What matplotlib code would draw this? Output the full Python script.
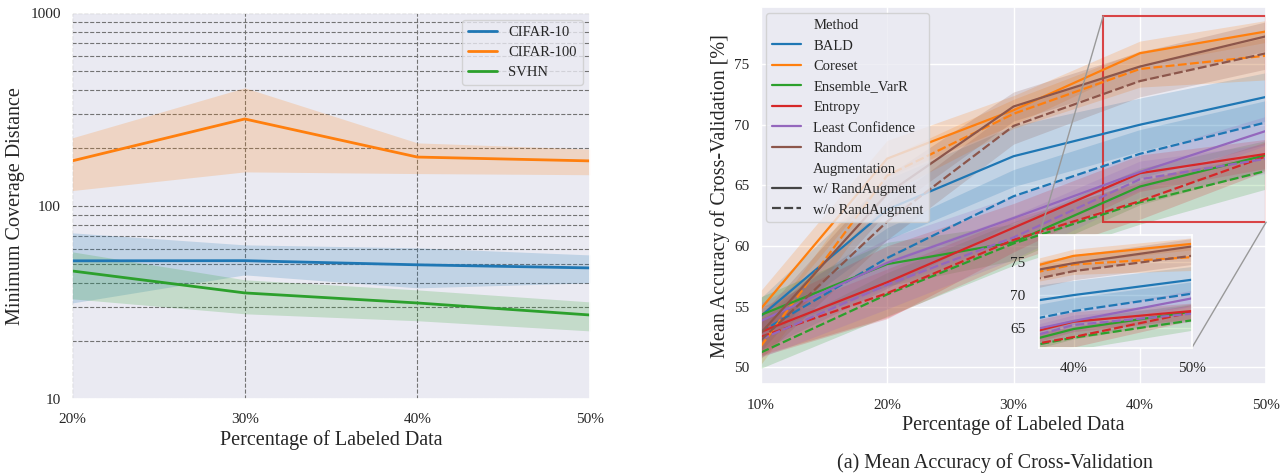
import matplotlib
matplotlib.use("Agg")
import matplotlib.pyplot as plt
import seaborn as sns
from matplotlib.lines import Line2D
from matplotlib.ticker import FuncFormatter, NullFormatter
from mpl_toolkits.axes_grid1.inset_locator import mark_inset

# ---- left panel: minimum coverage distance (log scale) ----
cov_x = [20, 30, 40, 50]
cifar10_mean = [51.9, 52.0, 49.5, 47.7]
cifar10_low = [31.4, 43.9, 37.6, 39.9]
cifar10_high = [72.5, 62.8, 60.6, 55.7]
cifar100_mean = [171, 282, 179, 171]
cifar100_low = [120, 150, 147, 145]
cifar100_high = [225, 409, 212, 197]
svhn_mean = [46.0, 35.4, 31.4, 27.2]
svhn_low = [33.0, 27.6, 25.4, 22.5]
svhn_high = [57.8, 41.4, 36.7, 31.8]

# ---- right panel: mean accuracy of cross-validation ----
acc_x = [10, 20, 30, 40, 50]
methods = ["BALD", "Coreset", "Ensemble_VarR", "Entropy", "Least Confidence", "Random"]
# with RandAugment / without RandAugment, means and half-width of the band
bald_aug = [54.2, 63.0, 67.4, 70.0, 72.3]
bald_noaug = [52.9, 59.0, 64.1, 67.6, 70.2]
coreset_aug = [54.8, 67.2, 71.2, 75.9, 77.7]
coreset_noaug = [51.7, 65.8, 70.9, 74.6, 75.7]
ensemble_aug = [54.3, 58.5, 60.3, 64.9, 67.5]
ensemble_noaug = [51.2, 56.0, 60.2, 63.6, 66.2]
entropy_aug = [52.9, 57.0, 61.5, 66.0, 67.6]
entropy_noaug = [52.5, 56.1, 60.5, 63.7, 67.4]
lc_aug = [53.8, 58.6, 62.3, 66.1, 69.5]
lc_noaug = [52.3, 56.8, 60.7, 65.5, 67.2]
random_aug = [52.8, 64.3, 71.5, 74.8, 77.3]
random_noaug = [52.2, 62.0, 69.9, 73.6, 75.9]

bald_aug_ci = [1.5, 2.5, 2.5, 2.2, 2.0]
bald_noaug_ci = [1.5, 2.5, 2.2, 2.0, 1.8]
coreset_aug_ci = [1.5, 1.5, 1.2, 1.0, 0.9]
coreset_noaug_ci = [1.5, 1.5, 1.2, 1.5, 2.0]
ensemble_aug_ci = [1.5, 1.8, 1.5, 1.5, 1.2]
ensemble_noaug_ci = [1.3, 1.8, 1.8, 1.8, 1.5]
entropy_aug_ci = [2.0, 3.0, 2.0, 1.5, 1.2]
entropy_noaug_ci = [1.5, 2.0, 1.8, 1.5, 1.2]
lc_aug_ci = [1.5, 2.0, 1.8, 1.5, 1.2]
lc_noaug_ci = [1.5, 2.0, 1.8, 1.5, 1.2]
random_aug_ci = [1.5, 1.5, 1.2, 1.2, 1.2]
random_noaug_ci = [1.5, 1.5, 1.5, 1.3, 1.3]

COLORS = ["#1f77b4", "#ff7f0e", "#2ca02c", "#d62728", "#9467bd", "#8c564b"]

sns.set_theme(style="darkgrid")
plt.rcParams["font.family"] = ["Liberation Serif", "DejaVu Serif"]
plt.rcParams["text.color"] = "#262626"

fig = plt.figure(figsize=(12.87, 4.76), dpi=100)

# left panel
ax1 = fig.add_axes([0.056, 0.162, 0.4025, 0.811])
for mean, low, high, col, name in [
        (cifar10_mean, cifar10_low, cifar10_high, COLORS[0], "CIFAR-10"),
        (cifar100_mean, cifar100_low, cifar100_high, COLORS[1], "CIFAR-100"),
        (svhn_mean, svhn_low, svhn_high, COLORS[2], "SVHN")]:
    ax1.fill_between(cov_x, low, high, color=col, alpha=0.2, lw=0)
    ax1.plot(cov_x, mean, color=col, lw=2, label=name)
ax1.set_yscale("log")
ax1.set_ylim(10, 1000)
ax1.set_xlim(20, 50)
ax1.set_xticks(cov_x)
ax1.set_xticklabels([f"{v}%" for v in cov_x])
ax1.yaxis.set_major_formatter(FuncFormatter(lambda v, _: f"{int(round(v))}"))
ax1.yaxis.set_minor_formatter(NullFormatter())
ax1.grid(which="both", linestyle="--", color="0.45", linewidth=0.8)
ax1.tick_params(axis="both", labelsize=11)
ax1.tick_params(axis="x", pad=4)
ax1.tick_params(axis="y", pad=2)
ax1.set_xlabel("Percentage of Labeled Data", fontsize=14.5, labelpad=3)
ax1.set_ylabel("Minimum Coverage Distance", fontsize=14.5, labelpad=4)
ax1.legend(loc="upper right", fontsize=10.5, framealpha=0.8, labelspacing=0.45)

# right panel
ax2 = fig.add_axes([0.591, 0.193, 0.393, 0.792])
axins = ax2.inset_axes([0.551, 0.095, 0.301, 0.30])

series = [
    (bald_aug, bald_aug_ci, bald_noaug, bald_noaug_ci),
    (coreset_aug, coreset_aug_ci, coreset_noaug, coreset_noaug_ci),
    (ensemble_aug, ensemble_aug_ci, ensemble_noaug, ensemble_noaug_ci),
    (entropy_aug, entropy_aug_ci, entropy_noaug, entropy_noaug_ci),
    (lc_aug, lc_aug_ci, lc_noaug, lc_noaug_ci),
    (random_aug, random_aug_ci, random_noaug, random_noaug_ci),
]


def draw_series(ax):
    for col, (m1, c1, m2, c2) in zip(COLORS, series):
        for mean, ci, ls in [(m1, c1, "-"), (m2, c2, (0, (4, 1.5)))]:
            low = [m - c for m, c in zip(mean, ci)]
            high = [m + c for m, c in zip(mean, ci)]
            ax.fill_between(acc_x, low, high, color=col, alpha=0.2, lw=0)
            ax.plot(acc_x, mean, color=col, lw=1.6, linestyle=ls)


draw_series(ax2)
ax2.set_xlim(10, 50)
ax2.set_ylim(48.6, 79.7)
ax2.set_xticks(acc_x)
ax2.set_xticklabels([f"{v}%" for v in acc_x])
ax2.set_yticks([50, 55, 60, 65, 70, 75])
ax2.tick_params(axis="both", labelsize=11)
ax2.tick_params(axis="x", pad=5)
ax2.tick_params(axis="y", pad=2)
ax2.set_xlabel("Percentage of Labeled Data", fontsize=14.5, labelpad=2)
ax2.set_ylabel("Mean Accuracy of Cross-Validation [%]", fontsize=14.5, labelpad=3)

draw_series(axins)
axins.set_xlim(37.1, 50)
axins.set_ylim(62, 79)
axins.set_xticks([40, 50])
axins.set_xticklabels(["40%", "50%"])
axins.set_yticks([65, 70, 75])
axins.tick_params(axis="both", labelsize=11, pad=4)
for sp in axins.spines.values():
    sp.set_visible(True)
    sp.set_color("white")
    sp.set_linewidth(1.2)

pp, p1, p2 = mark_inset(ax2, axins, loc1=2, loc2=4, fc="none", ec="0.6", lw=1)
pp.set_edgecolor("#d62728")
pp.set_alpha(0.85)
pp.set_linewidth(1.5)

blank = Line2D([], [], color="none")
handles = [blank] + [Line2D([], [], color=c, lw=1.6) for c in COLORS] + [
    blank,
    Line2D([], [], color="#444444", lw=1.6),
    Line2D([], [], color="#444444", lw=1.6, linestyle=(0, (4, 1.5))),
]
labels = ["Method"] + methods + ["Augmentation", "w/ RandAugment", "w/o RandAugment"]
ax2.legend(handles, labels, loc="upper left", fontsize=10.5, framealpha=0.8,
           borderaxespad=0.4, labelspacing=0.5)

fig.text(0.773, 0.027, "(a) Mean Accuracy of Cross-Validation", ha="center",
         va="center", fontsize=14.5)

fig.savefig("out.png", dpi=100)
